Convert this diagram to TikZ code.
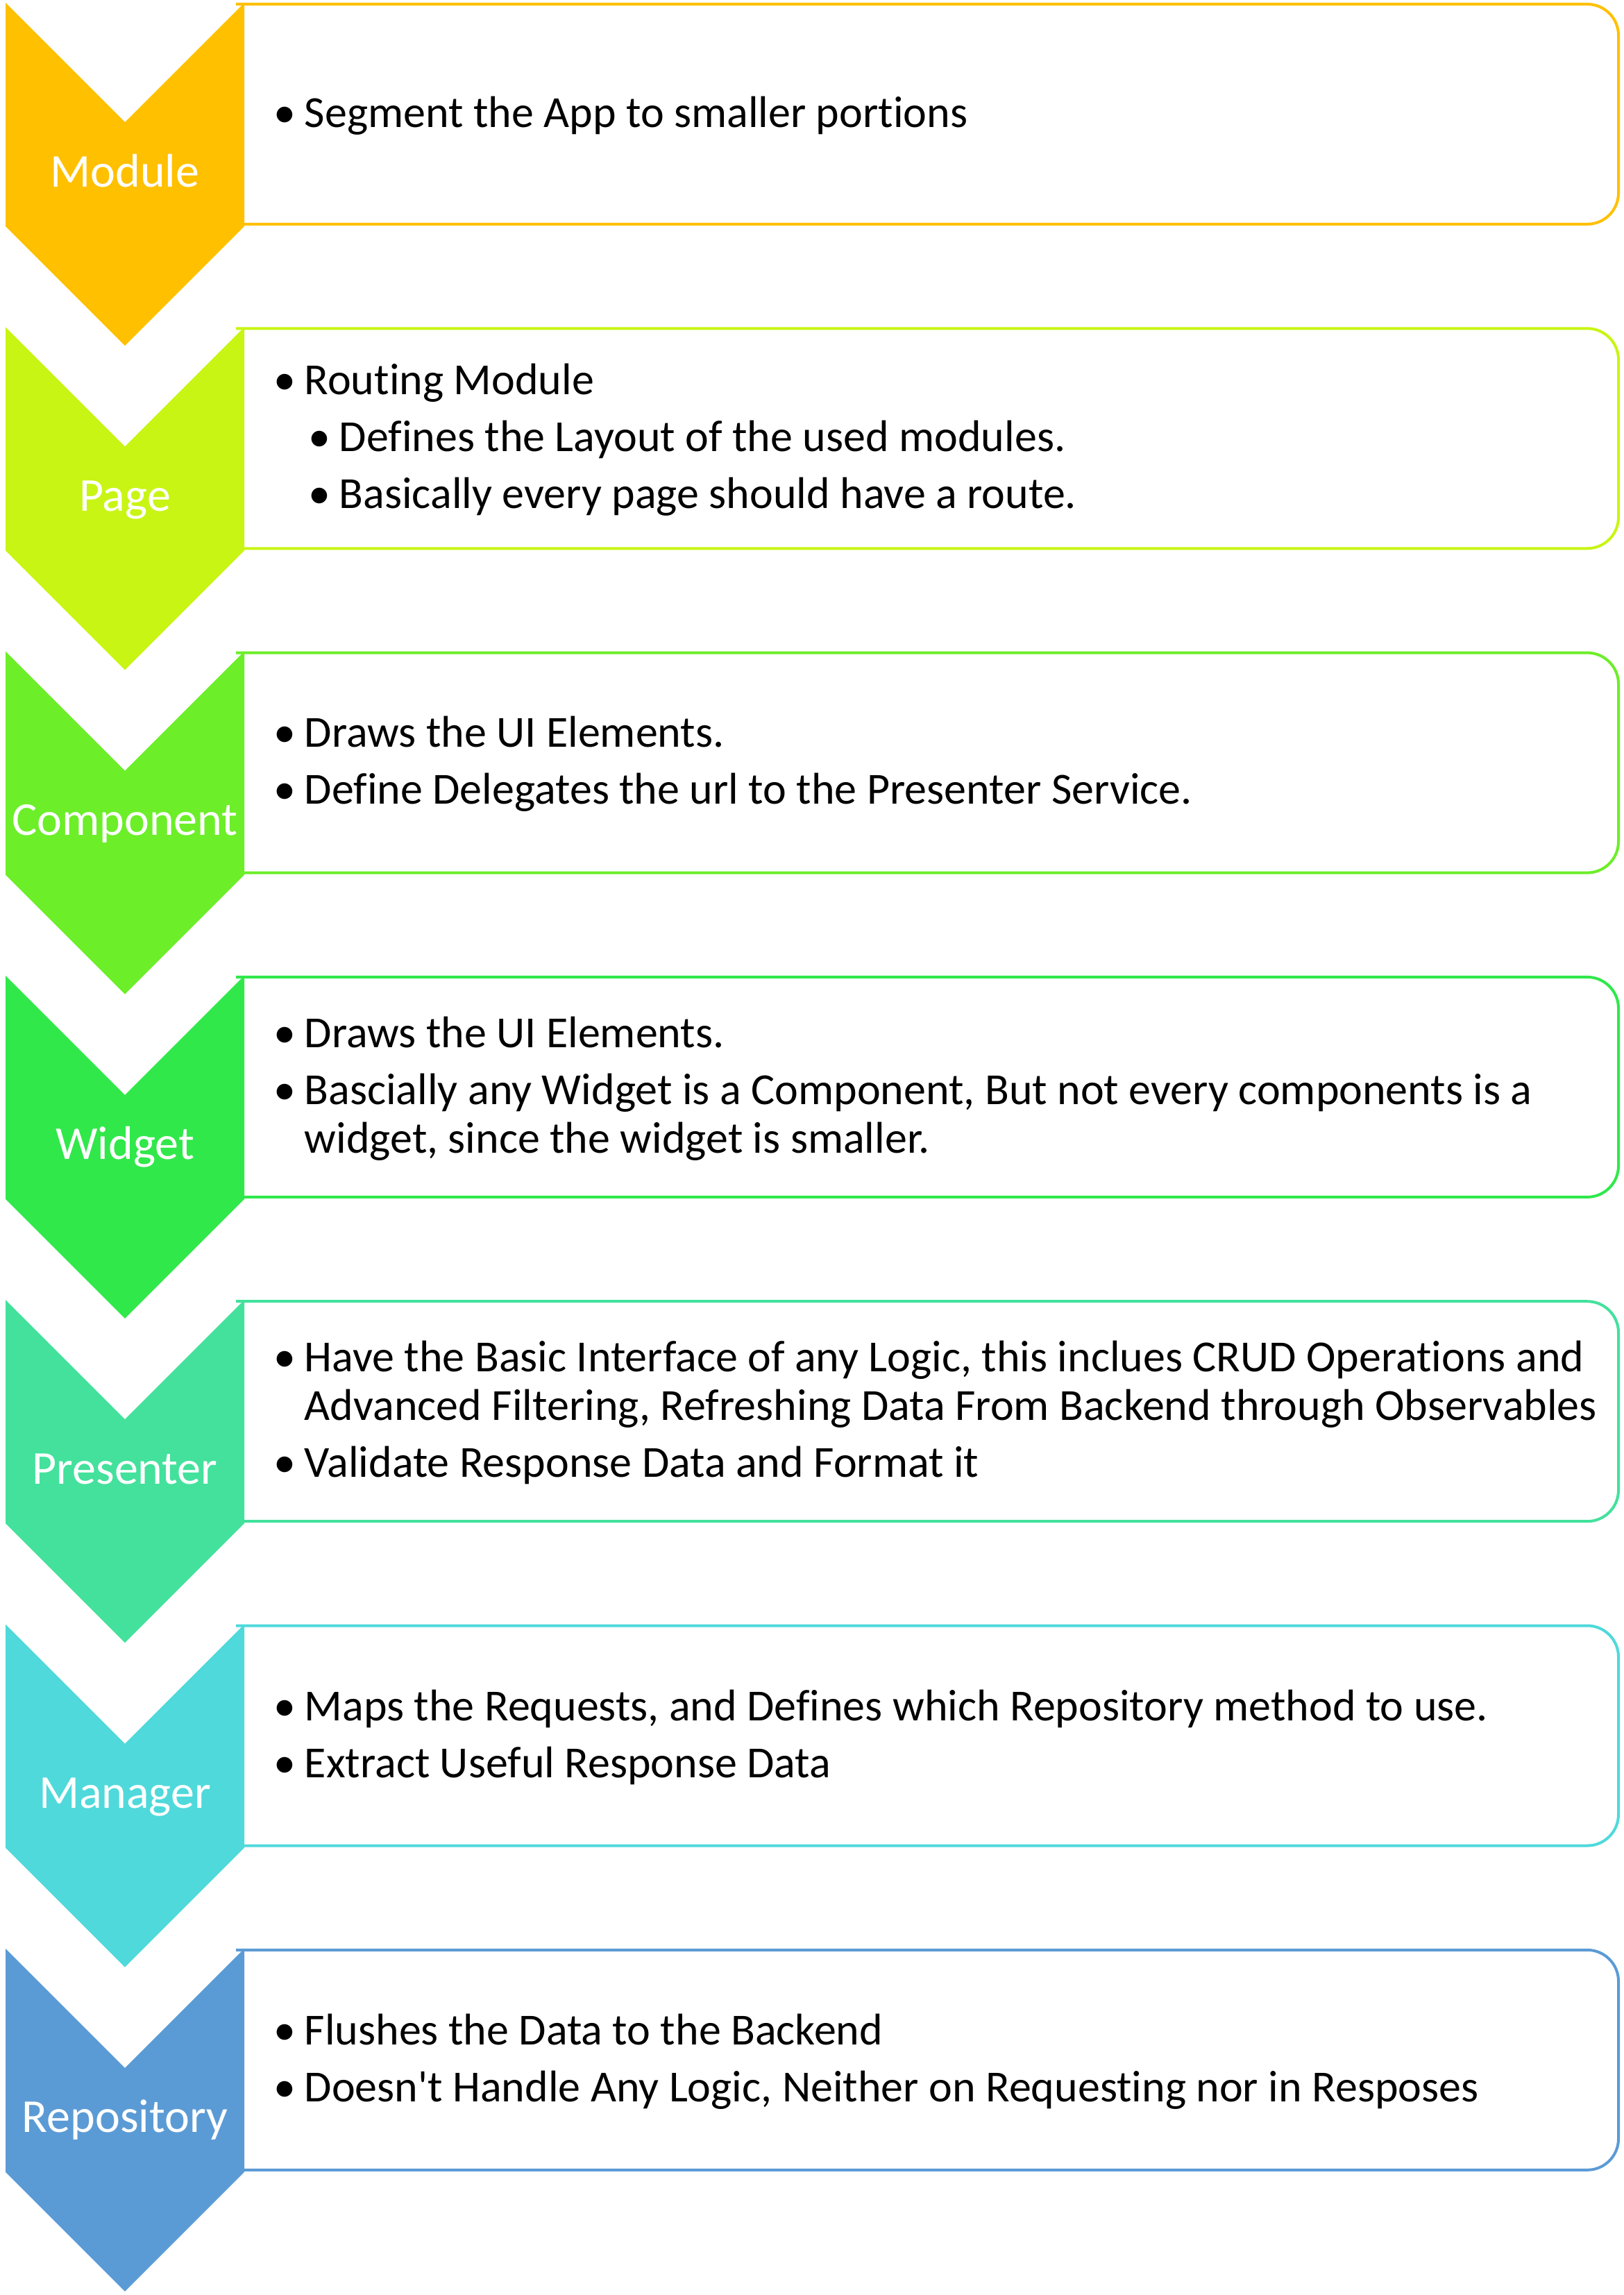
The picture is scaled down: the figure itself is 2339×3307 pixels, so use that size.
\documentclass[tikz,border=0pt]{standalone}
\usepackage{fontspec}
\setmainfont{Carlito}[Ligatures=NoCommon]
\definecolor{modcol}{HTML}{FFC000}
\definecolor{pagecol}{HTML}{C8F514}
\definecolor{compcol}{HTML}{6CEE29}
\definecolor{widgcol}{HTML}{30E84A}
\definecolor{prescol}{HTML}{43E19C}
\definecolor{mancol}{HTML}{4FD9DB}
\definecolor{repocol}{HTML}{5B9BD5}
\newcommand\bul{\makebox[11pt][l]{\textbullet}}
\newcommand\subbul{\hspace*{12.5pt}\makebox[11pt][l]{\textbullet}}
\newcommand\cont{\hspace*{11pt}}
\begin{document}
\begin{tikzpicture}[x=0.25pt,y=-0.25pt,
    layerbox/.style={draw=#1,line width=1pt,rounded corners=11.25pt},
    layer label/.style={text=white,anchor=base,inner sep=0pt,font=\fontsize{17}{20}\selectfont},
    layer text/.style={anchor=west,inner sep=0pt,align=left,font=\fontsize{16}{17.5}\selectfont}]
    \useasboundingbox (0,0) rectangle (2339,3307);

    % chevrons and boxes
    \foreach \i/\col/\lab in {0/modcol/Module,1/pagecol/Page,2/compcol/Component,3/widgcol/Widget,
                              4/prescol/Presenter,5/mancol/Manager,6/repocol/Repository}{
        \pgfmathsetmacro\t{4+467.3*\i}
        \draw[layerbox=\col] (340,\t+2) -- (2332,\t+2) -- (2332,\t+319) -- (340,\t+319);
        \fill[\col] (8,\t) -- (180,\t+172) -- (352,\t) -- (352,\t+322) -- (180,\t+494) -- (8,\t+322) -- cycle;
        \node[layer label] (lab\i) at (180,\t+265) {\lab};
    }

    % texts
    \node[layer text] (modtext) at (394,166.5) {\bul Segment the App to smaller portions};
    \node[layer text] (pagetext) at (394,633.8) {\bul Routing Module\\[3pt]
        \subbul Defines the Layout of the used modules.\\[3pt]
        \subbul Basically every page should have a route.};
    \node[layer text] (comptext) at (394,1101.1) {\bul Draws the UI Elements.\\[3pt]
        \bul Define Delegates the url to the Presenter Service.};
    \node[layer text] (widgtext) at (394,1568.4) {\bul Draws the UI Elements.\\[3pt]
        \bul Bascially any Widget is a Component, But not every components is a\\
        \cont widget, since the widget is smaller.};
    \node[layer text] (prestext) at (394,2035.7) {\bul Have the Basic Interface of any Logic, this inclues CRUD Operations and\\
        \cont Advanced Filtering, Refreshing Data From Backend through Observables\\[3pt]
        \bul Validate Response Data and Format it};
    \node[layer text] (mantext) at (394,2503) {\bul Maps the Requests, and Defines which Repository method to use.\\[3pt]
        \bul Extract Useful Response Data};
    \node[layer text] (repotext) at (394,2970.3) {\bul Flushes the Data to the Backend\\[3pt]
        \bul Doesn\textquotesingle t Handle Any Logic, Neither on Requesting nor in Resposes};
\end{tikzpicture}
\end{document}
